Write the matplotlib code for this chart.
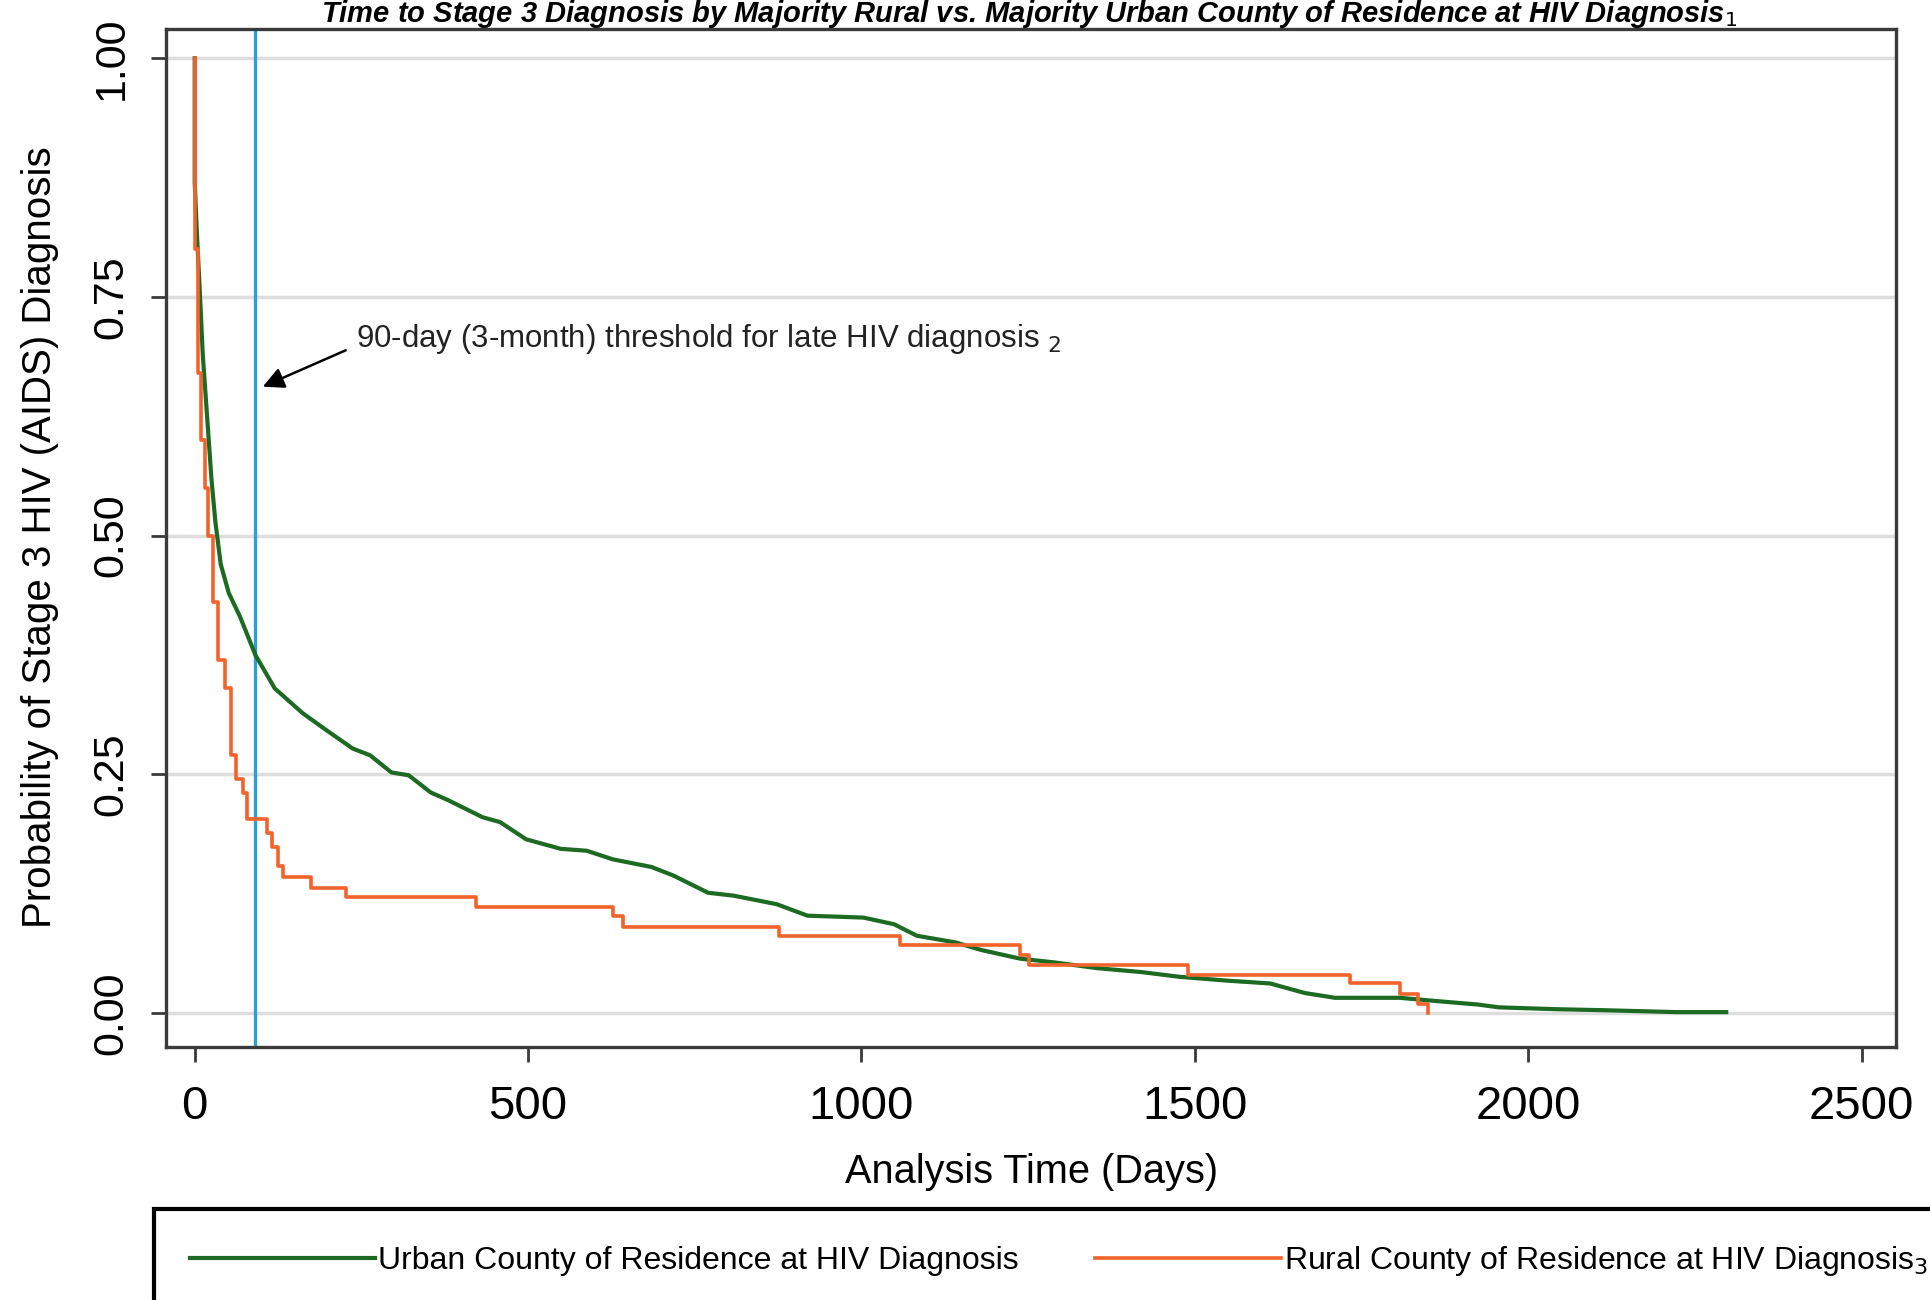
import matplotlib
matplotlib.use("Agg")
import matplotlib.pyplot as plt
from matplotlib import font_manager

# Kaplan-Meier style curves
urban_days = [0, 0, 3, 8, 12, 18, 25, 31, 39, 51, 68, 91, 120, 162, 198, 237, 263,
              295, 321, 354, 380, 432, 458, 497, 549, 588, 627, 685, 718, 770, 808,
              873, 919, 1003, 1049, 1083, 1141, 1180, 1238, 1290, 1354, 1419, 1477,
              1548, 1613, 1665, 1710, 1807, 1872, 1924, 1956, 2000, 2046, 2114, 2223, 2297]
urban_prob = [1.0, 0.87, 0.82, 0.75, 0.69, 0.63, 0.56, 0.514, 0.47, 0.44, 0.415, 0.375,
              0.34, 0.314, 0.296, 0.277, 0.27, 0.252, 0.249, 0.231, 0.223, 0.205, 0.2,
              0.182, 0.172, 0.17, 0.161, 0.153, 0.144, 0.126, 0.123, 0.114, 0.102, 0.1,
              0.093, 0.081, 0.074, 0.066, 0.057, 0.053, 0.047, 0.043, 0.038, 0.034,
              0.031, 0.021, 0.016, 0.016, 0.012, 0.009, 0.006, 0.005, 0.004, 0.003,
              0.001, 0.001]

rural_days = [0, 1, 5, 10, 16, 20, 27, 35, 46, 54, 62, 73, 78, 108, 116, 125, 132, 175,
              227, 422, 627, 643, 877, 1058, 1238, 1251, 1490, 1733, 1807, 1835, 1849]
rural_prob = [1.0, 0.80, 0.67, 0.60, 0.55, 0.50, 0.43, 0.37, 0.34, 0.27, 0.245, 0.23,
              0.203, 0.189, 0.174, 0.154, 0.142, 0.131, 0.122, 0.111, 0.102, 0.090,
              0.081, 0.071, 0.061, 0.050, 0.040, 0.031, 0.020, 0.010, 0.0]

threshold_day = 90
x_ticks = [0, 500, 1000, 1500, 2000, 2500]
y_ticks = [0.0, 0.25, 0.5, 0.75, 1.0]

title = ("Time to Stage 3 Diagnosis by Majority Rural vs. Majority Urban County "
         "of Residence at HIV Diagnosis$_1$")
urban_label = "Urban County of Residence at HIV Diagnosis"
rural_label = "Rural County of Residence at HIV Diagnosis$_3$"
note = "90-day (3-month) threshold for late HIV diagnosis $_2$"

plt.rcParams["font.family"] = ["Liberation Sans", "DejaVu Sans"]
installed = {f.name for f in font_manager.fontManager.ttflist}
narrow = "Liberation Sans Narrow" in installed

GREEN = "#1d6a22"
ORANGE = "#f2622b"
BLUE = "#2b9fd6"
AXC = "#3a3a3a"

fig = plt.figure(figsize=(19.31, 13.0), dpi=100)
ax = fig.add_axes([0.086, 0.195, 0.896, 0.783])

ax.set_xlim(-43, 2552)
ax.set_ylim(-0.035, 1.031)

for y in y_ticks:
    ax.axhline(y, color="#dedede", lw=2.5, zorder=0)

ax.axvline(threshold_day, color=BLUE, lw=2.4, zorder=1)

l_urban, = ax.plot(urban_days, urban_prob, color=GREEN, lw=3, zorder=3,
                   label=urban_label)
l_rural, = ax.plot(rural_days, rural_prob, color=ORANGE, lw=2.6, zorder=4,
                   drawstyle="steps-post", label=rural_label)

ax.annotate(note, xy=(102, 0.656), xytext=(242, 0.706), textcoords="data",
            ha="left", va="center", fontsize=22.5, color="#222222",
            arrowprops=dict(arrowstyle="-|>", color="black", lw=1.8,
                            mutation_scale=32, shrinkA=6, shrinkB=0,
                            relpos=(0, 0.3)))

ax.set_xticks(x_ticks)
ax.set_yticks(y_ticks)
ax.set_yticklabels(["{:.2f}".format(v) for v in y_ticks])
ax.tick_params(axis="x", labelsize=34, length=11, width=2, color=AXC, pad=17)
ax.tick_params(axis="y", labelsize=31, length=11, width=2, color=AXC, pad=14,
               labelrotation=90)
for lab in ax.get_yticklabels():
    lab.set_verticalalignment("center")

for s in ax.spines.values():
    s.set_color(AXC)
    s.set_linewidth(2.4)

ax.set_xlabel("Analysis Time (Days)", fontsize=28.6)
ax.xaxis.set_label_coords(0.5, -0.105)
ax.set_ylabel("Probability of Stage 3 HIV (AIDS) Diagnosis", fontsize=29)
ax.yaxis.set_label_coords(-0.062, 0.5)

fig.text(0.533, 1 - 22.5 / 1300, title, ha="center", va="baseline", fontsize=21,
         fontweight="bold", fontstyle="italic")

leg_font = dict(family=["Liberation Sans Narrow", "DejaVu Sans"], size=27) if narrow \
    else dict(family=["Liberation Sans", "DejaVu Sans"], size=23)
leg = fig.legend(handles=[l_urban, l_rural], loc="upper left",
                 bbox_to_anchor=(0.080, 0.070), borderaxespad=0, ncol=2,
                 prop=leg_font, handlelength=5.8, handletextpad=0.1,
                 columnspacing=2.4, borderpad=1.1, fancybox=False,
                 framealpha=1, edgecolor="black")
leg.get_frame().set_linewidth(3)

fig.savefig("out.png", dpi=100)
